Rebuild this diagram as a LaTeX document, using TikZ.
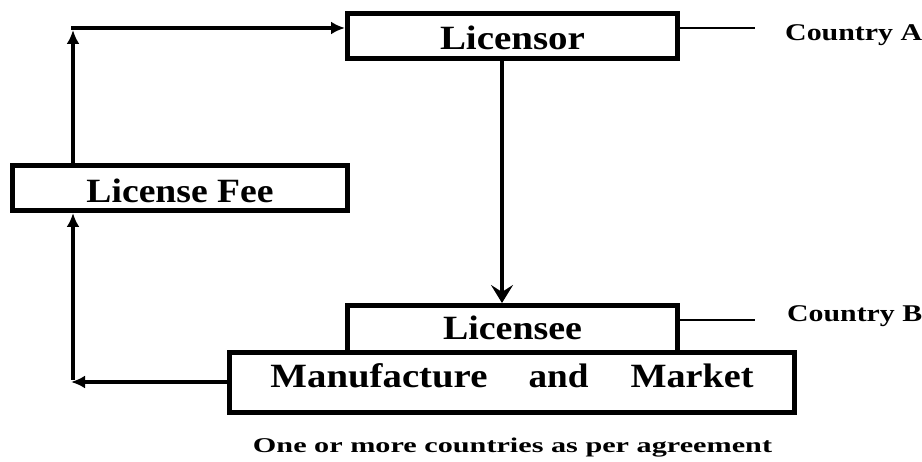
\documentclass[tikz,border=0pt]{standalone}
\usepackage{fontspec}
\usepackage{graphicx}
\setmainfont{Liberation Serif}
\usetikzlibrary{arrows.meta}
\newcommand{\fitw}[2]{\resizebox{#1}{\height}{#2}}
\begin{document}
\begin{tikzpicture}[x=1pt,y=-1pt,
  box/.style={draw=black,line width=5pt,inner sep=0pt,text depth=0pt,
    font=\bfseries\fontsize{34}{38}\selectfont},
  conn/.style={draw=black,line width=4pt},
  smalltip/.style={-{Latex[length=14pt,width=13pt]}},
  bigtip/.style={-{Stealth[length=18pt,width=22pt,inset=7pt]}},
  cline/.style={draw=black,line width=2.5pt},
  clabel/.style={inner sep=0pt,anchor=base west,font=\bfseries\fontsize{24}{28}\selectfont},
  note/.style={inner sep=0pt,anchor=base,font=\bfseries\fontsize{21}{25}\selectfont}]
\useasboundingbox[fill=white] (0,0) rectangle (922,462);

\node[box,minimum width=330pt,minimum height=45pt,text height=28pt] (licensor) at (512.5,36) {\fitw{145pt}{Licensor}};
\node[box,minimum width=335pt,minimum height=45pt,text height=30pt] (fee) at (180,188) {\fitw{187pt}{License Fee}};
\node[box,minimum width=330pt,minimum height=47pt,text height=22pt] (licensee) at (512.5,329) {\fitw{139pt}{Licensee}};
\node[box,minimum width=565pt,minimum height=60pt,text height=11pt] (manuf) at (512,382.5)
  {\fitw{217pt}{Manufacture}\hspace{41pt}\fitw{60pt}{and}\hspace{42pt}\fitw{123pt}{Market}};

\coordinate (cA) at (73,28);
\coordinate (cB) at (73,382);
\coordinate (dx) at (502,0);
\coordinate (ea) at (755,28);
\coordinate (eb) at (755,320);

% fee -> up -> licensor
\draw[conn,smalltip] (fee.north -| cA) -- ([yshift=-2pt]cA);
\draw[conn,smalltip] ([xshift=-2pt]cA) -- (cA -| licensor.west);
% licensor -> licensee
\draw[conn,bigtip] (licensor.south -| dx) -- (licensee.north -| dx);
% manufacture -> left -> fee
\draw[conn,smalltip] (manuf.west |- cB) -- ([xshift=-2pt]cB);
\draw[conn,smalltip] ([yshift=2pt]cB) -- (cB |- fee.south);

% country lines
\draw[cline] (ea -| licensor.east) -- (ea);
\draw[cline] (eb -| licensee.east) -- (eb);
\node[clabel] (ctA) at (785,41) {\fitw{137pt}{Country A}};
\node[clabel] (ctB) at (787,322) {\fitw{135pt}{Country B}};

\node[note] (agree) at (512.5,453) {\fitw{519pt}{One or more countries as per agreement}};
\end{tikzpicture}
\end{document}
